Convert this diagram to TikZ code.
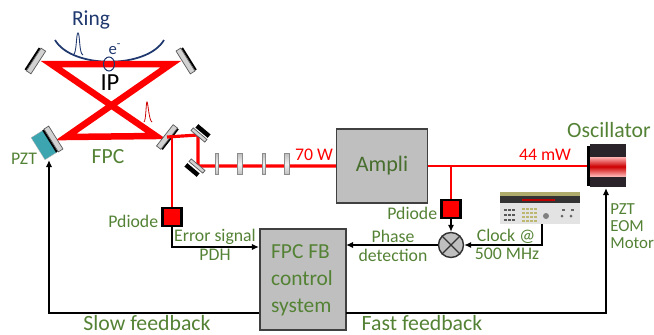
\documentclass[tikz,border=0pt]{standalone}
\usepackage{fontspec}
\setmainfont{Carlito}
\usetikzlibrary{arrows.meta,positioning,calc,shapes.misc}
\definecolor{labgreen}{RGB}{84,130,53}
\definecolor{ringblue}{RGB}{31,56,110}
\definecolor{boxgray}{RGB}{191,191,191}
\definecolor{pztteal}{RGB}{60,165,175}
\definecolor{oscdark}{RGB}{42,36,42}
\tikzset{
  lab/.style={text=labgreen,inner sep=0pt,font=\fontsize{10.1}{12}\selectfont},
  biglab/.style={text=labgreen,inner sep=0pt,font=\fontsize{12.4}{14}\selectfont},
  sigline/.style={black,line width=0.95pt},
  sigarrow/.style={sigline,-{Latex[length=4pt,width=3.6pt]}},
  thickbeam/.style={red,line width=3.7pt},
  midbeam/.style={red,line width=1.8pt},
  thinbeam/.style={red,line width=0.95pt},
  mirror/.style={draw=black!65,line width=0.4pt,fill=gray!35,minimum width=0.54cm,minimum height=0.11cm,inner sep=0pt},
  mirrorback/.style={fill=black,minimum width=0.52cm,minimum height=0.04cm,inner sep=0pt},
  lensbox/.style={draw=black!45,line width=0.3pt,top color=gray!50,bottom color=gray!50,middle color=gray!12,minimum height=0.42cm,inner sep=0pt},
  pdiode/.style={chamfered rectangle,chamfered rectangle corners={north east,north west},chamfered rectangle xsep=0.09cm,chamfered rectangle ysep=0.09cm,draw=black,fill=red,line width=1.2pt,minimum width=0.38cm,minimum height=0.35cm,inner sep=0pt},
  graybox/.style={draw=black!75,fill=boxgray,line width=0.8pt,inner sep=0pt}
}
\begin{document}
\begin{tikzpicture}[x=0.02cm,y=-0.02cm]
    \useasboundingbox (0,0) rectangle (654,335);
    % ring and pulses
    \draw[ringblue,line width=1pt] (55,40) .. controls (72,69) and (147,69) .. (164,40);
    \draw[ringblue,line width=0.5pt] (73,55) .. controls (77,54) and (76,33) .. (78,33) .. controls (80,33) and (79,54) .. (83,55);
    \node[text=ringblue,inner sep=0pt,font=\fontsize{12.2}{14}\selectfont] (ringlab) at (91,20) {Ring};
    % cavity beam
    \coordinate (tl) at (51,64);
    \coordinate (tr) at (171,64);
    \coordinate (bl) at (66,137);
    \coordinate (br) at (156,136);
    \draw[thickbeam,line join=miter] (tl) -- (tr) -- (bl) -- (br) -- cycle;
    \draw[ringblue,line width=0.6pt] (109,64) ellipse (5.5 and 7);
    \node[text=ringblue,inner sep=0pt,font=\fontsize{9.5}{11}\selectfont] (elab) at (115,49) {e\textsuperscript{-}};
    \node[text=black,inner sep=0pt,font=\fontsize{14}{16}\selectfont] (iplab) at (110,83) {IP};
    \draw[red!80!black,line width=0.45pt] (144,122) .. controls (146,121) and (146,102) .. (147,102) .. controls (148,102) and (149,121) .. (152,122);
    % cavity mirrors
    \node[fill=pztteal,draw=black!30,line width=0.2pt,minimum width=0.52cm,minimum height=0.28cm,inner sep=0pt,rotate=-58] (pzt) at (44,145) {};
    \node[mirrorback,rotate=57] (tlback) at (32.5,59) {};
    \node[mirror,rotate=57] (tlm) at (36,61) {};
    \node[mirrorback,rotate=-58] (trback) at (189,59) {};
    \node[mirror,rotate=-58] (trm) at (185.5,61) {};
    \node[mirrorback,rotate=-58] (blback) at (50,141) {};
    \node[mirror,rotate=-58] (blm) at (53.5,139) {};
    \node[mirrorback,rotate=52] (brback) at (170,139) {};
    \node[mirror,rotate=52] (brm) at (167,137) {};
    % path to the amplifier
    \coordinate (turna) at (198,135);
    \coordinate (turnb) at (198,166);
    \node[graybox,minimum width=1.82cm,minimum height=1.48cm] (ampli) at (382,166) {};
    \node[lab,text=labgreen!85!black,font=\fontsize{12.6}{14}\selectfont] (amplilab) at (382,166) {Ampli};
    \draw[midbeam] (brm.center) -- (turna) -- (turnb) -- (ampli.west);
    \node[fill=black,minimum width=0.32cm,minimum height=0.09cm,inner sep=0pt,rotate=-40] (maback) at (203,131) {};
    \node[mirror,minimum width=0.36cm,minimum height=0.07cm,rotate=-40] (ma) at (199,135) {};
    \node[fill=black,minimum width=0.32cm,minimum height=0.09cm,inner sep=0pt,rotate=-40] (mbback) at (192,170) {};
    \node[mirror,minimum width=0.36cm,minimum height=0.07cm,rotate=-40] (mb) at (197,166) {};
    \node[lensbox,minimum width=0.07cm] (lensa) at (217,164) {};
    \node[lensbox,minimum width=0.11cm] (lensb) at (240,164) {};
    \node[lensbox,minimum width=0.07cm] (lensc) at (264,164) {};
    \node[lensbox,minimum width=0.11cm] (lensd) at (287,164) {};
    \node[text=red,inner sep=0pt,font=\fontsize{10.1}{12}\selectfont] (pwra) at (314,155) {70 W};
    % oscillator
    \node[fill=black,minimum width=0.1cm,minimum height=0.8cm,inner sep=0pt] (oscback) at (589.5,166) {};
    \fill[oscdark] (590,144) rectangle (626,187);
    \shade[top color=white!70!red,bottom color=white!70!red,middle color=red!80!black] (590,157) rectangle (626,176);
    \node[biglab] (osclab) at (609,130) {Oscillator};
    \draw[thinbeam] (ampli.east) -- (oscback.west);
    \node[text=red,inner sep=0pt,font=\fontsize{10.1}{12}\selectfont] (pwrb) at (545,155) {44 mW};
    % detectors
    \node[pdiode] (pda) at (172,217) {};
    \node[pdiode] (pdb) at (451,209) {};
    \coordinate (taka) at (172,137);
    \coordinate (takb) at (451,166);
    \draw[thinbeam] (taka) -- (pda.north);
    \draw[thinbeam] (takb) -- (pdb.north);
    \node[lab,left=0.06cm of pda,yshift=-0.08cm] (pdalab) {Pdiode};
    \node[lab,left=0.06cm of pdb,yshift=-0.08cm] (pdblab) {Pdiode};
    % control box
    \node[graybox,minimum width=1.72cm,minimum height=2.02cm] (ctrl) at (303,279.5) {};
    \node[biglab,font=\fontsize{12.2}{15.4}\selectfont,align=left] (ctrllab) at (302,280) {FPC FB\\control\\system};
    % mixer
    \node[circle,draw=black!80,fill=boxgray,line width=0.8pt,minimum size=0.5cm,inner sep=0pt] (mix) at (451,245) {};
    \draw[black!80,line width=0.7pt] (mix.north west) -- (mix.south east) (mix.north east) -- (mix.south west);
    % clock source
    \node[fill=gray!22,minimum width=1.6cm,minimum height=0.64cm,inner sep=0pt] (clock) at (540,208) {};
    \fill[black!30!olive!55] (500,192) -- (580,192) -- (580,197) -- (500,197) -- cycle;
    \fill[black!80] (500,196) rectangle (580,203);
    \fill[red!75!black] (522,198.5) rectangle (555,201);
    \foreach \px in {504,508,512} \foreach \py in {209,214,219} \fill[black!65] (\px,\py) rectangle ++(2.5,2);
    \foreach \px in {522,526,530,534} \foreach \py in {208,212,216,220} \fill[gray!60!yellow] (\px,\py) rectangle ++(2.5,2);
    \fill[gray] (546,216) circle (3);
    \foreach \px in {562,571} \fill[black!60] (\px,216) circle (1.5);
    \foreach \px in {562,571} \fill[black!60] (\px,209) rectangle ++(2.5,2);
    % signals
    \coordinate (clkturn) at (542,245);
    \coordinate (errin) at (259,247);
    \coordinate (phin) at (346,245);
    \coordinate (slowout) at (259,313);
    \coordinate (slowturn) at (49,313);
    \coordinate (pztin) at (49,160);
    \coordinate (fastout) at (346,313);
    \coordinate (fastturn) at (606,313);
    \coordinate (oscin) at (606,188);
    \draw[sigarrow] (pda.south) |- (errin);
    \draw[sigarrow] (pdb.south) -- (mix.north);
    \draw[sigarrow] (mix.west) -- (phin);
    \draw[sigarrow] (clock.south -| clkturn) -- (clkturn) -- (mix.east);
    \draw[sigarrow] (slowout) -- (slowturn) -- (pztin);
    \draw[sigarrow] (fastout) -- (fastturn) -- (oscin);
    % labels
    \node[biglab,font=\fontsize{12.3}{14}\selectfont] (fpclab) at (108,157) {FPC};
    \node[lab] (pztlab) at (24,159) {PZT};
    \node[lab] (errlab) at (215,237) {Error signal};
    \node[lab] (pdhlab) at (215,255) {PDH};
    \node[lab] (phlab) at (393,236) {Phase};
    \node[lab] (detlab) at (393,255) {detection};
    \node[lab] (clklab) at (506,236) {Clock @};
    \node[lab] (mhzlab) at (507,254) {500 MHz};
    \node[lab,align=left,anchor=north west,font=\fontsize{9.6}{9.7}\selectfont] (actlab) at (610,203) {PZT\\EOM\\Motor};
    \node[biglab] (slowlab) at (147,323.5) {Slow feedback};
    \node[biglab] (fastlab) at (422,323.5) {Fast feedback};
  \end{tikzpicture}
\end{document}
